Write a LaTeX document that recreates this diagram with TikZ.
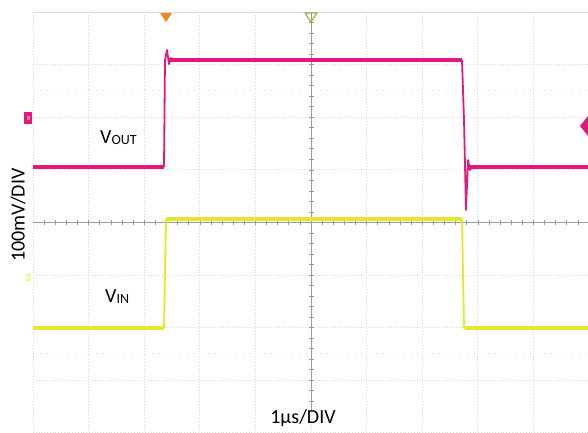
\documentclass[tikz,border=0pt]{standalone}
\usepackage{fontspec}
\setmainfont{Carlito}
\definecolor{gridc}{HTML}{DADADA}
\definecolor{axisc}{HTML}{9A9A9A}
\definecolor{magc}{HTML}{E0197D}
\definecolor{yelc}{HTML}{E6E62A}
\definecolor{orgc}{HTML}{EE8A1E}
\definecolor{grnc}{HTML}{9AB04A}
\tikzset{
  gridline/.style={gridc, line width=0.8pt, dotted},
  axisline/.style={axisc, line width=0.6pt},
  trace/.style={line width=4pt},
  edge/.style={line width=1.8pt, line join=round},
  lbl/.style={font=\fontsize{20}{22}\selectfont, inner sep=0pt}
}
\begin{document}
\begin{tikzpicture}[x=1pt,y=-1pt]
\useasboundingbox (0,0) rectangle (588,432);
\fill[white] (0,0) rectangle (588,432);
% grid
\foreach \i in {0,...,10} {
  \draw[gridline] ({33+55.6*\i},12) -- ({33+55.6*\i},432);
}
\foreach \j in {0,...,8} {
  \draw[gridline] (33,{12+52.6*\j}) -- (588,{12+52.6*\j});
}
\draw[gridc, line width=0.8pt] (33,12) -- (588,12);
\draw[gridline, dash pattern=on 1pt off 6pt] (33,90) -- (588,90);
\draw[gridline, dash pattern=on 1pt off 6pt] (33,353) -- (588,353);
% center axes with ticks
\draw[axisline] (33,222) -- (588,222);
\draw[axisline] (311,12) -- (311,410);
\foreach \k in {1,...,49} {
  \draw[axisline] ({33+11.12*\k},219.5) -- ({33+11.12*\k},224.5);
}
\foreach \k in {1,...,37} {
  \draw[axisline] (308.5,{12+10.52*\k}) -- (313.5,{12+10.52*\k});
}
% VOUT trace
\draw[magc, trace] (33,167) -- (164,167);
\draw[magc, trace] (169,60) -- (462,60);
\draw[magc, trace] (470,167) -- (588,167);
\draw[magc, edge] (164,167) -- (165,60) -- (167,50) -- (169,64) -- (171,58) -- (173,60);
\draw[magc, edge] (462,60) -- (464,120) -- (466,210) -- (468,160) -- (470,170) -- (472,167);
% VIN trace
\draw[yelc, trace] (33,328) -- (164,328);
\draw[yelc, trace] (166,219) -- (462,219);
\draw[yelc, trace] (465,328) -- (588,328);
\draw[yelc, edge] (164,328) -- (166,219);
\draw[yelc, edge] (462,219) -- (464,328) -- (466,328);
% markers
\fill[magc] (24,112) rectangle (32,124);
\fill[magc!60!white] (26.5,115.5) rectangle (29.5,119.5);
\node[yelc!75!white, font=\fontsize{12}{12}\selectfont\bfseries, inner sep=0pt] (m3) at (28,278) {3};
\fill[magc] (588,116) -- (580,126) -- (588,136) -- cycle;
\fill[orgc] (160,13) -- (172,13) -- (166,22) -- cycle;
\draw[grnc, line width=1.2pt] (305,13) -- (317,13) -- (311,22) -- cycle;
% labels
\node[lbl, anchor=base west] (vout) at (100,143) {V\fontsize{14}{14}\selectfont\raisebox{-1pt}{OUT}};
\node[lbl, anchor=base west] (vin) at (105,302) {V\fontsize{14}{14}\selectfont\raisebox{-1pt}{IN}};
\node[lbl, rotate=90] (ydiv) at (18,215) {100mV/DIV};
\node[lbl, anchor=base] (xdiv) at (303,423) {1\textmu s/DIV};
\end{tikzpicture}
\end{document}
